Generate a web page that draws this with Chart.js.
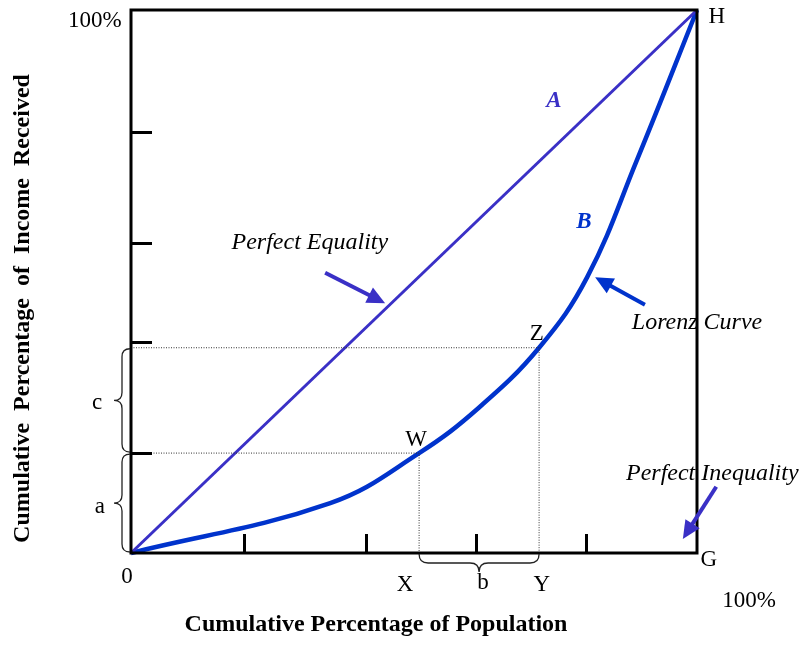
<!DOCTYPE html>
<html>
<head>
<meta charset="utf-8">
<script src="https://cdn.jsdelivr.net/npm/chart.js@4/dist/chart.umd.min.js"></script>
<style>
  html, body { margin: 0; padding: 0; background: #fff; }
  #wrap { width: 802px; height: 647px; }
</style>
</head>
<body>
<div id="wrap"><canvas id="lorenz"></canvas></div>
<script>
// ── Data (percent of population / percent of income) ────────────────────────
const populationPct = [0, 35.2, 50.9, 61.5, 72.1, 80.6, 89.4, 100];
const incomePct     = [0, 9.2, 18.4, 26.8, 37.8, 50.8, 72.4, 100];
const equalityX     = [0, 100];
const equalityY     = [0, 100];
const xTickValues   = [20, 41.5, 61, 80.4];
const yTickValues   = [18.4, 38.9, 57.1, 77.5];
const pointW        = { x: 50.9, y: 18.4 };
const pointZ        = { x: 72.1, y: 37.8 };

const SERIF = '"Liberation Serif", "Times New Roman", serif';
const PURPLE = '#3a30c6';
const BLUE = '#0033cc';

// ── Annotations (in data units) ──────────────────────────────────────────────
const REG = `23px ${SERIF}`;
const ITAL = `italic 24px ${SERIF}`;
const labels = [
  { t: '100%', x: -6.4, y: 98.0, f: REG },
  { t: '100%', x: 109.2, y: -8.8, f: REG },
  { t: '0', x: -0.7, y: -4.4, f: REG },
  { t: 'H', x: 103.5, y: 98.7, f: REG },
  { t: 'G', x: 102.1, y: -1.3, f: REG },
  { t: 'W', x: 50.35, y: 20.8, f: REG },
  { t: 'Z', x: 71.7, y: 40.3, f: REG },
  { t: 'X', x: 48.4, y: -5.9, f: REG },
  { t: 'b', x: 62.2, y: -5.5, f: REG },
  { t: 'Y', x: 72.6, y: -5.9, f: REG },
  { t: 'c', x: -6.0, y: 27.6, f: REG },
  { t: 'a', x: -5.5, y: 8.5, f: REG },
  { t: 'A', x: 74.7, y: 83.2, f: `italic bold 23px ${SERIF}`, c: PURPLE },
  { t: 'B', x: 80.0, y: 61.0, f: `italic bold 23px ${SERIF}`, c: BLUE },
  { t: 'Perfect Equality', x: 31.6, y: 57.1, f: ITAL },
  { t: 'Lorenz Curve', x: 100, y: 42.4, f: ITAL },
  { t: 'Perfect Inequality', x: 102.7, y: 14.6, f: ITAL },
];

const arrows = [
  { from: [34.3, 51.6], to: [44.9, 46.0], c: PURPLE },
  { from: [90.8, 45.7], to: [82.0, 50.8], c: BLUE },
  { from: [103.4, 12.2], to: [97.5, 2.6], c: PURPLE },
];

function drawBrace(ctx, len, r) {
  // local frame: t along the brace, n toward the point
  ctx.beginPath();
  ctx.moveTo(0, 0);
  ctx.quadraticCurveTo(0, r, r, r);
  ctx.lineTo(len / 2 - r, r);
  ctx.quadraticCurveTo(len / 2, r, len / 2, 2 * r);
  ctx.quadraticCurveTo(len / 2, r, len / 2 + r, r);
  ctx.lineTo(len - r, r);
  ctx.quadraticCurveTo(len, r, len, 0);
  ctx.stroke();
}

const overlay = {
  id: 'overlay',
  afterDatasetsDraw(chart) {
    const { ctx, chartArea: a, scales: { x, y } } = chart;
    ctx.save();

    // frame
    ctx.strokeStyle = '#000';
    ctx.lineWidth = 3;
    ctx.strokeRect(a.left, a.top, a.right - a.left, a.bottom - a.top);

    // inward ticks
    ctx.beginPath();
    xTickValues.forEach(v => {
      const px = Math.round(x.getPixelForValue(v)) + 0.5;
      ctx.moveTo(px, a.bottom); ctx.lineTo(px, a.bottom - 19);
    });
    yTickValues.forEach(v => {
      const py = Math.round(y.getPixelForValue(v)) + 0.5;
      ctx.moveTo(a.left, py); ctx.lineTo(a.left + 21, py);
    });
    ctx.stroke();

    // braces
    ctx.strokeStyle = '#222';
    ctx.lineWidth = 1.3;
    const bx = a.left - 1;
    [[pointZ.y, pointW.y], [pointW.y, 0]].forEach(([top, bot]) => {
      const y1 = y.getPixelForValue(top) + 1, y2 = y.getPixelForValue(bot) - 1;
      ctx.save();
      ctx.translate(bx, y1);
      ctx.transform(0, 1, -1, 0, 0, 0);
      drawBrace(ctx, y2 - y1, 8);
      ctx.restore();
    });
    {
      const x1 = x.getPixelForValue(pointW.x), x2 = x.getPixelForValue(pointZ.x);
      ctx.save();
      ctx.translate(x1, a.bottom + 1);
      drawBrace(ctx, x2 - x1, 9);
      ctx.restore();
    }

    // arrows
    arrows.forEach(ar => {
      const x0 = x.getPixelForValue(ar.from[0]), y0 = y.getPixelForValue(ar.from[1]);
      const x1 = x.getPixelForValue(ar.to[0]), y1 = y.getPixelForValue(ar.to[1]);
      const ang = Math.atan2(y1 - y0, x1 - x0);
      const head = 18, half = 8.5;
      const bxp = x1 - head * Math.cos(ang), byp = y1 - head * Math.sin(ang);
      ctx.strokeStyle = ar.c; ctx.fillStyle = ar.c; ctx.lineWidth = 4;
      ctx.beginPath(); ctx.moveTo(x0, y0); ctx.lineTo(bxp + 2 * Math.cos(ang), byp + 2 * Math.sin(ang)); ctx.stroke();
      ctx.beginPath();
      ctx.moveTo(x1, y1);
      ctx.lineTo(bxp + half * Math.sin(ang), byp - half * Math.cos(ang));
      ctx.lineTo(bxp - half * Math.sin(ang), byp + half * Math.cos(ang));
      ctx.closePath(); ctx.fill();
    });

    // labels
    ctx.textAlign = 'center';
    ctx.textBaseline = 'middle';
    labels.forEach(l => {
      ctx.font = l.f;
      ctx.fillStyle = l.c || '#000';
      ctx.fillText(l.t, x.getPixelForValue(l.x), y.getPixelForValue(l.y));
    });

    // axis titles
    ctx.fillStyle = '#000';
    ctx.font = `bold 24px ${SERIF}`;
    ctx.fillText('Cumulative Percentage of Population', (a.left + a.right) / 2 - 38, a.bottom + 72);
    ctx.save();
    ctx.translate(a.left - 108, (a.top + a.bottom) / 2 + 27);
    ctx.rotate(-Math.PI / 2);
    if ('wordSpacing' in ctx) ctx.wordSpacing = '6px';
    ctx.fillText('Cumulative Percentage of Income Received', 0, 0);
    ctx.restore();

    ctx.restore();
  }
};

const toXY = (xs, ys) => xs.map((v, i) => ({ x: v, y: ys[i] }));
const guide = p => [{ x: 0, y: p.y }, { x: p.x, y: p.y }, { x: p.x, y: 0 }];

new Chart(document.getElementById('lorenz'), {
  type: 'scatter',
  data: {
    datasets: [
      { data: guide(pointW), showLine: true, borderColor: '#333', borderWidth: 1, borderDash: [1, 1.5], pointRadius: 0 },
      { data: guide(pointZ), showLine: true, borderColor: '#333', borderWidth: 1, borderDash: [1, 1.5], pointRadius: 0 },
      { data: toXY(equalityX, equalityY), showLine: true, borderColor: PURPLE, borderWidth: 3, pointRadius: 0, clip: false },
      { data: toXY(populationPct, incomePct), showLine: true, borderColor: BLUE, borderWidth: 4.5,
        tension: 0.4, pointRadius: 0, clip: false },
    ]
  },
  options: {
    responsive: true,
    maintainAspectRatio: false,
    animation: false,
    devicePixelRatio: 1,
    layout: { padding: { left: 131, top: 10, right: 105, bottom: 94 } },
    plugins: { legend: { display: false }, tooltip: { enabled: false } },
    scales: {
      x: { type: 'linear', min: 0, max: 100, display: false },
      y: { type: 'linear', min: 0, max: 100, display: false },
    }
  },
  plugins: [overlay]
});
</script>
</body>
</html>
